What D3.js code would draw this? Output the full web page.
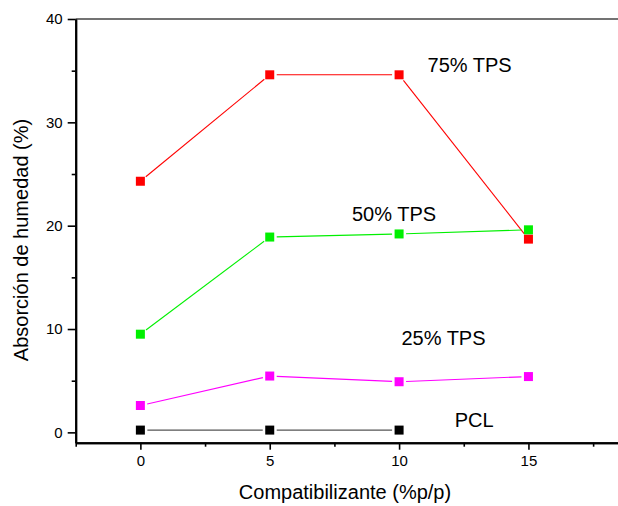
<!DOCTYPE html>
<html>
<head>
<meta charset="utf-8">
<script src="https://cdn.jsdelivr.net/npm/d3@7"></script>
<style>
  html, body { margin: 0; padding: 0; background: #fff; }
  svg { display: block; font-family: "Liberation Sans", Arial, sans-serif; }
</style>
</head>
<body>
<svg id="chart" width="618" height="506"></svg>
<script>
// Compatibilizer content (% w/w) on the x axis
const categories = [0, 5, 10, 15];

// Moisture absorption (%) per formulation
const tps75 = [24.3, 34.6, 34.6, 18.7];
const tps50 = [9.5, 18.9, 19.2, 19.6];
const tps25 = [2.6, 5.45, 4.9, 5.4];
const pcl   = [0.22, 0.22, 0.22];

const xMajorTicks = [0, 5, 10, 15];
const xMinorTicks = [-2.5, 2.5, 7.5, 12.5, 17.5];
const yMajorTicks = [0, 10, 20, 30, 40];
const yMinorTicks = [5, 15, 25, 35];

const series = [
  { name: "75% TPS", values: tps75, color: "#ff0000", label: [11.1, 34.9] },
  { name: "50% TPS", values: tps50, color: "#00f000", label: [8.18, 20.45] },
  { name: "25% TPS", values: tps25, color: "#ff00ff", label: [10.09, 8.45] },
  { name: "PCL",     values: pcl,   color: "#000000", label: [12.15, 0.54] }
];

const svg = d3.select("#chart");

const x = d3.scaleLinear().domain([-2.5, 20]).range([75.7, 657.8]);
const y = d3.scaleLinear().domain([-1, 40]).range([442.7, 19]);

// frame: top edge
svg.append("line")
  .attr("x1", x(-2.5)).attr("x2", x(20))
  .attr("y1", y(40)).attr("y2", y(40))
  .attr("stroke", "#444").attr("stroke-width", 1.4);

function styleAxis(g) {
  g.select(".domain").attr("stroke", "#000").attr("stroke-width", 2);
  g.selectAll(".tick line").attr("stroke", "#000").attr("stroke-width", 1.6);
  g.selectAll(".tick text")
    .attr("fill", "#000")
    .style("font-size", "15px")
    .style("font-family", "'Liberation Sans', Arial, sans-serif");
}

// bottom axis: minor then major ticks
svg.append("g")
  .attr("transform", `translate(0,${y(-1)})`)
  .call(d3.axisBottom(x).tickValues(xMinorTicks).tickSize(4).tickSizeOuter(0).tickFormat(""))
  .call(styleAxis);
svg.append("g")
  .attr("transform", `translate(0,${y(-1)})`)
  .call(d3.axisBottom(x).tickValues(xMajorTicks).tickSize(7).tickSizeOuter(0).tickPadding(6).tickFormat(d3.format("d")))
  .call(styleAxis);

// left axis
svg.append("g")
  .attr("transform", `translate(${x(-2.5)},0)`)
  .call(d3.axisLeft(y).tickValues(yMinorTicks).tickSize(4).tickSizeOuter(0).tickFormat(""))
  .call(styleAxis);
svg.append("g")
  .attr("transform", `translate(${x(-2.5)},0)`)
  .call(d3.axisLeft(y).tickValues(yMajorTicks).tickSize(8).tickSizeOuter(0).tickPadding(5).tickFormat(d3.format("d")))
  .call(styleAxis);

// axis titles
svg.append("text")
  .attr("x", 345).attr("y", 498.5)
  .attr("text-anchor", "middle")
  .style("font-size", "20px")
  .text("Compatibilizante (%p/p)");

svg.append("text")
  .attr("transform", "translate(27.5,240) rotate(-90)")
  .attr("text-anchor", "middle")
  .style("font-size", "20px")
  .text("Absorción de humedad (%)");

// connecting segments stop short of each marker
const gap = 7;
series.forEach(s => {
  const pts = s.values.map((v, i) => [x(categories[i]), y(v)]);
  const segs = [];
  for (let i = 0; i < pts.length - 1; i++) {
    const [x1, y1] = pts[i], [x2, y2] = pts[i + 1];
    const len = Math.hypot(x2 - x1, y2 - y1);
    const ux = (x2 - x1) / len, uy = (y2 - y1) / len;
    segs.push([x1 + ux * gap, y1 + uy * gap, x2 - ux * gap, y2 - uy * gap]);
  }
  svg.append("g").selectAll("line").data(segs).join("line")
    .attr("x1", d => d[0]).attr("y1", d => d[1])
    .attr("x2", d => d[2]).attr("y2", d => d[3])
    .attr("stroke", s.color === "#000000" ? "#555" : s.color)
    .attr("stroke-width", 1.1);
});

// square markers
const size = 9;
series.forEach(s => {
  svg.append("g").selectAll("rect").data(s.values).join("rect")
    .attr("x", (d, i) => x(categories[i]) - size / 2)
    .attr("y", d => y(d) - size / 2)
    .attr("width", size).attr("height", size)
    .attr("fill", s.color);
});

// series annotations
svg.append("g").selectAll("text").data(series).join("text")
  .attr("x", d => x(d.label[0]))
  .attr("y", d => y(d.label[1]))
  .style("font-size", "20px")
  .attr("fill", "#000")
  .text(d => d.name);
</script>
</body>
</html>
